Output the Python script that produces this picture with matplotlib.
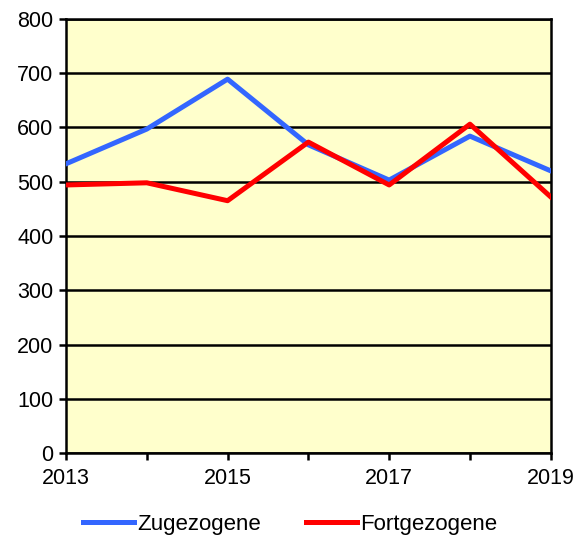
import matplotlib
matplotlib.use("Agg")
import matplotlib.pyplot as plt

years = [2013, 2014, 2015, 2016, 2017, 2018, 2019]
zugezogene = [533, 597, 689, 568, 503, 584, 520]
fortgezogene = [494, 498, 465, 573, 494, 606, 472]
year_labels = ["2013", "", "2015", "", "2017", "", "2019"]

plt.rcParams['font.family'] = ['Liberation Sans', 'DejaVu Sans']

fig = plt.figure(figsize=(5.75, 5.4), dpi=100)
ax = fig.add_axes([0.1148, 0.161, 0.843, 0.804])
ax.set_facecolor("#FFFFCC")

ax.plot(years, zugezogene, color="#3366FF", lw=3.6, label="Zugezogene", zorder=3)
ax.plot(years, fortgezogene, color="#FF0000", lw=3.6, label="Fortgezogene", zorder=4)

ax.set_xlim(2013, 2019)
ax.set_ylim(0, 800)
ax.set_yticks(range(0, 801, 100))
ax.set_xticks(years)
ax.set_xticklabels(year_labels)
ax.yaxis.grid(True, color="black", lw=1.8)
ax.set_axisbelow(True)
for s in ax.spines.values():
    s.set_linewidth(1.8)
ax.tick_params(axis="both", direction="out", width=1.8, length=5, labelsize=15.5, color="black")
ax.tick_params(axis="x", pad=6)
ax.tick_params(axis="y", pad=4)

fig.legend(loc="lower center", bbox_to_anchor=(0.505, -0.028), ncol=2, frameon=False,
           fontsize=16, handlelength=2.3, handletextpad=0.15, columnspacing=2.0)

fig.savefig("out.png", dpi=100)
